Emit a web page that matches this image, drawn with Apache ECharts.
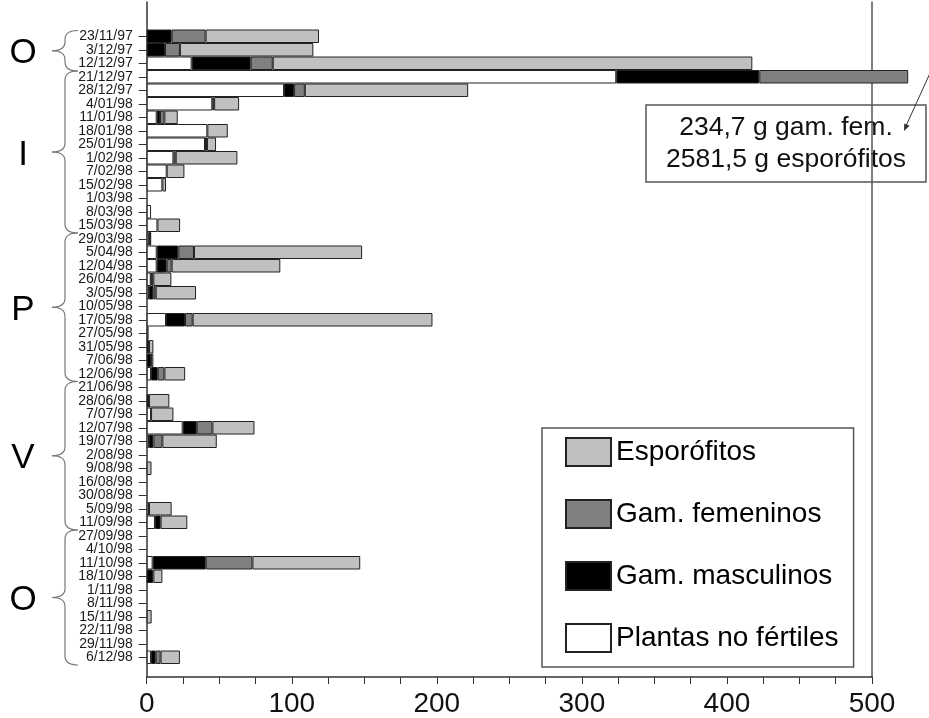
<!DOCTYPE html>
<html>
<head>
<meta charset="utf-8">
<script src="https://cdn.jsdelivr.net/npm/echarts@6/dist/echarts.min.js"></script>
<style>
  html, body { margin: 0; padding: 0; background: #fff; }
  #chart { width: 929px; height: 718px; }
</style>
</head>
<body>
<div id="chart"></div>
<script>
// Fechas de muestreo (de arriba hacia abajo)
const fechas = [
  '23/11/97','3/12/97','12/12/97','21/12/97','28/12/97','4/01/98','11/01/98','18/01/98',
  '25/01/98','1/02/98','7/02/98','15/02/98','1/03/98','8/03/98','15/03/98','29/03/98',
  '5/04/98','12/04/98','26/04/98','3/05/98','10/05/98','17/05/98','27/05/98','31/05/98',
  '7/06/98','12/06/98','21/06/98','28/06/98','7/07/98','12/07/98','19/07/98','2/08/98',
  '9/08/98','16/08/98','30/08/98','5/09/98','11/09/98','27/09/98','4/10/98','11/10/98',
  '18/10/98','1/11/98','8/11/98','15/11/98','22/11/98','29/11/98','6/12/98'
];

// Biomasa (g) por fracción
const plantasNoFertiles = [
  0, 0, 31, 323.7, 94.7, 45.2, 6.9, 41.8,
  40.2, 18.4, 13.8, 10.8, 0, 3, 7.4, 1.5,
  6.9, 6.9, 2.8, 1.6, 0, 13.3, 0, 0,
  0, 3, 0, 0, 3, 24.8, 1.6, 0,
  0, 0, 0, 1.6, 5.7, 0, 0, 4.1,
  0, 0, 0, 0, 0, 0, 3
];
const gamMasculinos = [
  17.2, 12.6, 40.7, 98.6, 6.9, 0, 2.3, 0,
  1.4, 0, 0, 0, 0, 0, 0, 1.6,
  14.9, 6.9, 0.6, 3, 0, 13.1, 0, 1.6,
  3, 4.6, 0, 1.6, 0, 9.7, 3, 0,
  0, 0, 0, 0, 3.9, 0, 0, 36.6,
  4.6, 0, 0, 0, 0, 0, 3.2
];
const gamFemeninos = [
  23.4, 10.3, 15.2, 234.7, 7.4, 1.3, 3, 0,
  0, 1.6, 0, 0, 0, 0, 0, 0,
  10.8, 3.4, 1.2, 1.6, 0, 5.3, 0, 0,
  0, 4.6, 0, 0, 0, 10.8, 6.2, 0,
  0, 0, 0, 0, 0, 0, 0, 32.2,
  0, 0, 0, 0, 0, 0, 3.4
];
const esporofitos = [
  78.2, 92, 330.6, 2581.5, 112.6, 17.2, 9.2, 14.1,
  6.2, 42.5, 12.2, 2.5, 0, 0, 15.6, 0,
  115.9, 74.9, 12.4, 27.8, 0, 165.3, 1.3, 3,
  1.6, 14.3, 0, 14, 15.4, 29, 37.5, 0,
  3.3, 0, 0, 15.6, 18.4, 0, 0, 74.3,
  6.2, 0, 0, 3.4, 0, 0, 13.3
];

// Marcas del eje de biomasa
const ejeMin = 0;
const ejeMax = 500;
const ejeEtiquetas = [0, 100, 200, 300, 400, 500];
const ejeSubdivision = 25;

// Estaciones: Otoño, Invierno, Primavera, Verano, Otoño
const estaciones = [
  { letra: 'O', desde: '23/11/97', hasta: '12/12/97' },
  { letra: 'I', desde: '21/12/97', hasta: '15/03/98' },
  { letra: 'P', desde: '29/03/98', hasta: '12/06/98' },
  { letra: 'V', desde: '21/06/98', hasta: '11/09/98' },
  { letra: 'O', desde: '27/09/98', hasta: '6/12/98' }
];

// Rótulo de los valores que salen fuera de escala (21/12/97)
const rotuloFueraEscala = ['234,7 g gam. fem.', '2581,5 g esporófitos'];

// ---------- Maquetación ----------
const W = 929, H = 718;
const LEFT = 146.7;          // eje vertical
const FRAME_RIGHT = 872;     // borde derecho del área de trazado (= 500)
const BAR_RIGHT = 907.7;     // hasta donde se dejan ver las barras
const BAR_TOP = 29.5, BAR_BOTTOM = 664;
const AXIS_Y = 679.3;
const FRAME_TOP = 2;
const BAR_MAX = ejeMax * (BAR_RIGHT - LEFT) / (FRAME_RIGHT - LEFT);
const FONT = 'Liberation Sans, Arial, sans-serif';

const noCero = arr => arr.map(v => (v > 0 ? v : null));

function serie(nombre, datos, color) {
  return {
    name: nombre,
    type: 'bar',
    stack: 'total',
    xAxisIndex: 0,
    yAxisIndex: 0,
    barCategoryGap: '0%',
    clip: true,
    data: noCero(datos),
    itemStyle: { color: color, borderColor: '#222', borderWidth: 1 },
    emphasis: { disabled: true },
    silent: true
  };
}

const chart = echarts.init(document.getElementById('chart'), null, { renderer: 'canvas' });

chart.setOption({
  animation: false,
  backgroundColor: '#fff',
  textStyle: { fontFamily: FONT },
  grid: [
    { left: LEFT, right: W - BAR_RIGHT, top: BAR_TOP, bottom: H - BAR_BOTTOM },
    { left: LEFT, right: W - FRAME_RIGHT, top: FRAME_TOP, bottom: H - AXIS_Y }
  ],
  xAxis: [
    { gridIndex: 0, type: 'value', min: ejeMin, max: BAR_MAX, show: false },
    {
      gridIndex: 1, type: 'value', min: ejeMin, max: ejeMax, interval: ejeSubdivision,
      axisLine: { show: true, lineStyle: { color: '#333', width: 1.5 } },
      axisTick: { show: true, length: 7, lineStyle: { color: '#333', width: 1 } },
      splitLine: { show: false },
      axisLabel: {
        margin: 13, fontSize: 28, color: '#111', fontFamily: FONT,
        formatter: v => (ejeEtiquetas.indexOf(v) >= 0 ? String(v) : '')
      }
    }
  ],
  yAxis: [
    {
      gridIndex: 0, type: 'category', data: fechas, inverse: true, boundaryGap: true,
      axisLine: { show: false },
      axisTick: { show: true, length: 8, alignWithLabel: true, interval: 0, lineStyle: { color: '#333' } },
      axisLabel: { interval: 0, fontSize: 14, color: '#1a1a1a', margin: 14, fontFamily: FONT },
      splitLine: { show: false }
    },
    {
      gridIndex: 1, type: 'value', min: 0, max: 1, position: 'left',
      axisLine: { show: true, lineStyle: { color: '#333', width: 1.5 } },
      axisTick: { show: false }, axisLabel: { show: false }, splitLine: { show: false }
    },
    {
      gridIndex: 1, type: 'value', min: 0, max: 1, position: 'right',
      axisLine: { show: true, lineStyle: { color: '#555', width: 1.5 } },
      axisTick: { show: false }, axisLabel: { show: false }, splitLine: { show: false }
    }
  ],
  legend: {
    orient: 'vertical',
    left: 542, top: 428,
    padding: [9, 15, 14, 23],
    borderColor: '#555', borderWidth: 1.5,
    backgroundColor: '#fff',
    itemWidth: 45, itemHeight: 28, itemGap: 32,
    selectedMode: false,
    icon: 'rect',
    textStyle: { fontSize: 28, color: '#000', fontFamily: FONT },
    data: ['Esporófitos', 'Gam. femeninos', 'Gam. masculinos', 'Plantas no fértiles']
  },
  series: [
    serie('Plantas no fértiles', plantasNoFertiles, '#ffffff'),
    serie('Gam. masculinos', gamMasculinos, '#000000'),
    serie('Gam. femeninos', gamFemeninos, '#808080'),
    serie('Esporófitos', esporofitos, '#c0c0c0')
  ]
});

// ---------- Llaves y letras de estaciones, rótulo con flecha ----------
const yCat = name => chart.convertToPixel({ yAxisIndex: 0 }, name);
const banda = yCat(fechas[1]) - yCat(fechas[0]);
const trazoLlave = { stroke: '#777', lineWidth: 1.2, fill: null };

// Llave "{" hecha con curvas cuadráticas y tramos rectos
function llave(yT, yB) {
  const xr = 78, xm = 65, xt = 52, r = 9;
  const yM = (yT + yB) / 2;
  const curva = (x1, y1, cx, cy, x2, y2) => ({
    type: 'bezierCurve', silent: true,
    shape: { x1: x1, y1: y1, cpx1: cx, cpy1: cy, x2: x2, y2: y2 },
    style: trazoLlave
  });
  const recta = (x1, y1, x2, y2) => ({
    type: 'line', silent: true,
    shape: { x1: x1, y1: y1, x2: x2, y2: y2 },
    style: trazoLlave
  });
  return {
    type: 'group',
    children: [
      curva(xr, yT, xm, yT, xm, yT + r),
      recta(xm, yT + r, xm, yM - r),
      curva(xm, yM - r, xm, yM, xt, yM),
      curva(xt, yM, xm, yM, xm, yM + r),
      recta(xm, yM + r, xm, yB - r),
      curva(xm, yB - r, xm, yB, xr, yB)
    ]
  };
}

const graficos = [];
estaciones.forEach(e => {
  const yT = yCat(e.desde) - banda / 2 + 1;
  const yB = yCat(e.hasta) + banda / 2 + 1;
  graficos.push(llave(yT, yB));
  graficos.push({
    type: 'text', silent: true, x: 23, y: (yT + yB) / 2 + 3,
    style: { text: e.letra, font: '35px ' + FONT, fill: '#000', align: 'center', verticalAlign: 'middle' }
  });
});

// Rótulo de los valores fuera de escala
graficos.push({
  type: 'rect', silent: true,
  shape: { x: 646, y: 105, width: 280, height: 77 },
  style: { fill: null, stroke: '#555', lineWidth: 1.5 }
});
rotuloFueraEscala.forEach((t, i) => {
  graficos.push({
    type: 'text', silent: true, x: 786, y: 128 + i * 32,
    style: { text: t, font: '26.5px ' + FONT, fill: '#111', align: 'center', verticalAlign: 'middle' }
  });
});
// Flecha
graficos.push({
  type: 'line', silent: true,
  shape: { x1: 936, y1: 60, x2: 905.5, y2: 127 },
  style: { stroke: '#333', lineWidth: 1 }
});
graficos.push({
  type: 'polygon', silent: true,
  shape: { points: [[904, 131], [909.6, 125.8], [904.2, 123.4]] },
  style: { fill: '#333' }
});

chart.setOption({ graphic: graficos });
</script>
</body>
</html>
